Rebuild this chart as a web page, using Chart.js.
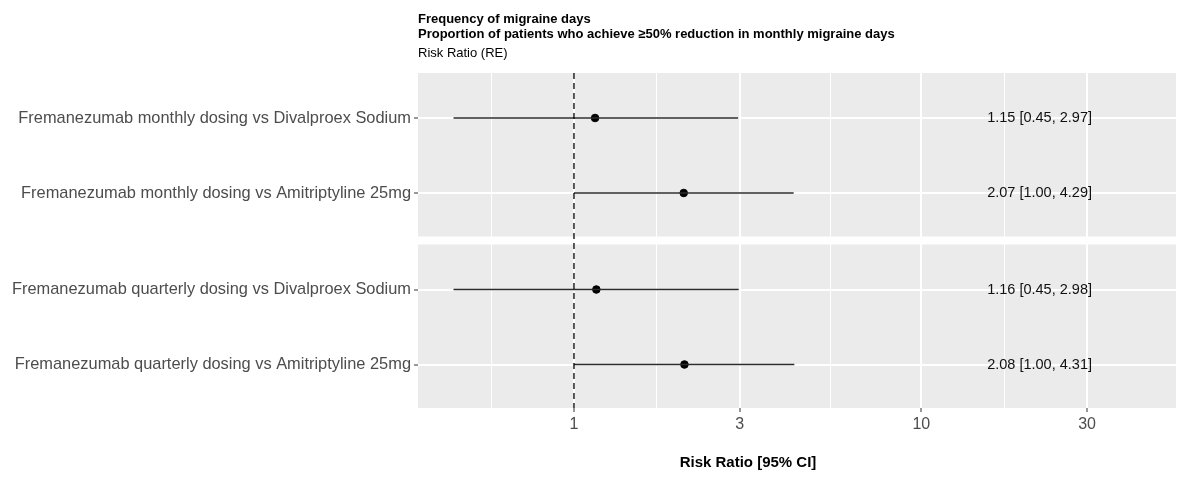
<!DOCTYPE html>
<html>
<head>
<meta charset="utf-8">
<script src="https://cdn.jsdelivr.net/npm/chart.js@4"></script>
<style>
  body { margin: 0; background: #fff; }
  #wrap { width: 1177px; height: 504px; }
</style>
</head>
<body>
<div id="wrap"><canvas id="forest"></canvas></div>
<script>
const titleLines = ['Frequency of migraine days', 'Proportion of patients who achieve \u226550% reduction in monthly migraine days'];
const subtitle = 'Risk Ratio (RE)';
const xTitle = 'Risk Ratio [95% CI]';

const comparisons = [
    'Fremanezumab monthly dosing vs Divalproex Sodium',
    'Fremanezumab monthly dosing vs Amitriptyline 25mg',
    'Fremanezumab quarterly dosing vs Divalproex Sodium',
    'Fremanezumab quarterly dosing vs Amitriptyline 25mg'
];
const panelOf = [0, 0, 1, 1];
const riskRatio = [1.15, 2.07, 1.16, 2.08];
const lowerCI = [0.45, 1.00, 0.45, 1.00];
const upperCI = [2.97, 4.29, 2.98, 4.31];

const xTicks = [1, 3, 10, 30];
const xMinorTicks = [0.577, 1.732, 5.477, 17.32];
const refLine = 1;
const textColumnX = 21.9;

// layout in y units (one unit per row)
const padTop = 0.6, padBottom = 0.58, gap = 0.107;
const rowPos = comparisons.map((c, i) => i + panelOf[i] * (padTop + padBottom + gap - 1));
const yMin = -padTop;
const yMax = rowPos[rowPos.length - 1] + padBottom;
const gapTop = rowPos[1] + padBottom, gapBottom = gapTop + gap;

const greyText = '#4d4d4d';
const fontFamily = '"Liberation Sans", Arial, sans-serif';

const panelPlugin = {
    id: 'panelPlugin',
    beforeDraw: (chart) => {
        const { ctx, chartArea: a, scales } = chart;
        ctx.save();
        ctx.fillStyle = '#ebebeb';
        ctx.fillRect(a.left, a.top, a.right - a.left, a.bottom - a.top);
        const g1 = scales.y.getPixelForValue(gapTop);
        const g2 = scales.y.getPixelForValue(gapBottom);
        ctx.fillStyle = '#ffffff';
        ctx.fillRect(a.left, g1, a.right - a.left, g2 - g1);
        ctx.restore();
    },
    afterDatasetsDraw: (chart) => {
        const { ctx, scales } = chart;
        ctx.save();
        // effect size column
        ctx.font = '14.5px ' + fontFamily;
        ctx.fillStyle = '#111';
        ctx.textAlign = 'center';
        ctx.textBaseline = 'middle';
        const px = scales.x.getPixelForValue(textColumnX);
        comparisons.forEach((c, i) => {
            const txt = riskRatio[i].toFixed(2) + ' [' + lowerCI[i].toFixed(2) + ', ' + upperCI[i].toFixed(2) + ']';
            ctx.fillText(txt, px, scales.y.getPixelForValue(rowPos[i]));
        });
        ctx.restore();
    },
    afterDraw: (chart) => {
        const { ctx, chartArea: a } = chart;
        ctx.save();
        ctx.fillStyle = '#000';
        ctx.textAlign = 'left';
        ctx.textBaseline = 'alphabetic';
        ctx.font = 'bold 13px ' + fontFamily;
        ctx.fillText(titleLines[0], a.left, 23);
        ctx.fillText(titleLines[1], a.left, 38);
        ctx.font = '13px ' + fontFamily;
        ctx.fillText(subtitle, a.left, 57);
        // x axis title
        ctx.font = 'bold 15px ' + fontFamily;
        ctx.textAlign = 'center';
        ctx.fillText(xTitle, 748, 467);
        ctx.restore();
    }
};

const datasets = [];
// reference line at RR = 1
datasets.push({
    type: 'line',
    data: [{ x: refLine, y: yMin }, { x: refLine, y: yMax }],
    borderColor: '#000',
    borderWidth: 1.3,
    borderDash: [6, 4],
    pointRadius: 0
});
// confidence intervals
comparisons.forEach((c, i) => {
    datasets.push({
        type: 'line',
        data: [{ x: lowerCI[i], y: rowPos[i] }, { x: upperCI[i], y: rowPos[i] }],
        borderColor: '#2b2b2b',
        borderWidth: 1.6,
        pointRadius: 0
    });
});
// point estimates
datasets.push({
    type: 'scatter',
    data: riskRatio.map((v, i) => ({ x: v, y: rowPos[i] })),
    backgroundColor: '#000',
    borderColor: '#000',
    pointRadius: 3.8
});

const isMajor = (v) => xTicks.includes(v);

new Chart(document.getElementById('forest'), {
    type: 'scatter',
    data: { datasets: datasets },
    options: {
        responsive: true,
        maintainAspectRatio: false,
        animation: false,
        layout: { autoPadding: false, padding: { top: 73, right: 1, left: 0, bottom: 0 } },
        plugins: {
            legend: { display: false },
            tooltip: { enabled: false }
        },
        scales: {
            x: {
                type: 'logarithmic',
                min: 0.3556,
                max: 54.1,
                afterBuildTicks: (scale) => {
                    scale.ticks = xTicks.concat(xMinorTicks).sort((a, b) => a - b).map(v => ({ value: v }));
                },
                afterFit: (scale) => {
                    scale.height = 96;
                    scale.paddingLeft = 0;
                    scale.paddingRight = 0;
                },
                border: { display: false },
                grid: {
                    color: '#ffffff',
                    lineWidth: (ctx) => ctx.tick && isMajor(ctx.tick.value) ? 2 : 1,
                    tickColor: (ctx) => ctx.tick && isMajor(ctx.tick.value) ? '#333' : 'rgba(0,0,0,0)',
                    tickWidth: 1,
                    tickLength: 4
                },
                ticks: {
                    autoSkip: false,
                    maxRotation: 0,
                    padding: 3,
                    color: greyText,
                    font: { family: fontFamily, size: 16 },
                    callback: (value) => isMajor(value) ? String(value) : ''
                }
            },
            y: {
                type: 'linear',
                reverse: true,
                min: yMin,
                max: yMax,
                afterBuildTicks: (scale) => {
                    scale.ticks = rowPos.map(v => ({ value: v }));
                },
                afterFit: (scale) => {
                    scale.width = 418;
                    scale.paddingTop = 0;
                    scale.paddingBottom = 0;
                },
                border: { display: false },
                grid: {
                    color: '#ffffff',
                    lineWidth: 2,
                    tickColor: '#333',
                    tickWidth: 1,
                    tickLength: 4
                },
                ticks: {
                    autoSkip: false,
                    padding: 3,
                    color: greyText,
                    font: { family: fontFamily, size: 16.4 },
                    callback: (value, index) => comparisons[index]
                }
            }
        }
    },
    plugins: [panelPlugin]
});
</script>
</body>
</html>
